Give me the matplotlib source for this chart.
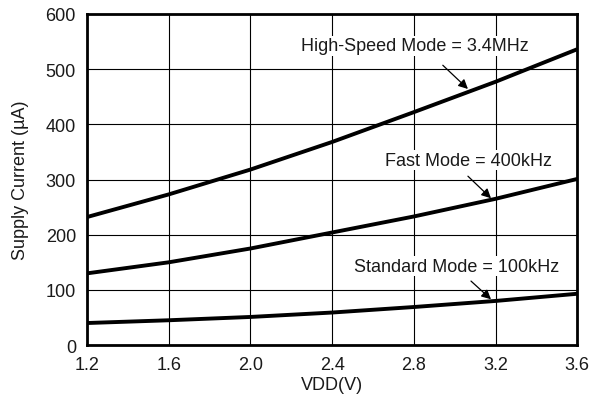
import numpy as np
import matplotlib.pyplot as plt

plt.rcParams["font.family"] = ["Liberation Sans", "DejaVu Sans"]
plt.rcParams["font.size"] = 13

vdd = [1.2, 1.6, 2.0, 2.4, 2.8, 3.2, 3.6]
high_speed = [232, 273, 318, 368, 422, 477, 536]
fast = [130, 150, 175, 204, 233, 265, 301]
standard = [40, 45, 51, 59, 69, 80, 93]

xticks = [1.2, 1.6, 2.0, 2.4, 2.8, 3.2, 3.6]
yticks = [0, 100, 200, 300, 400, 500, 600]

fig = plt.figure(figsize=(5.92, 4.14), dpi=100)
ax = fig.add_axes([0.147, 0.164, 0.828, 0.800])

for y in (high_speed, fast, standard):
    ax.plot(vdd, y, color="black", lw=2.8, solid_capstyle="butt", zorder=3)

ax.set_xlim(1.2, 3.6)
ax.set_ylim(0, 600)
ax.set_xticks(xticks)
ax.set_xticklabels(["%.1f" % v for v in xticks])
ax.set_yticks(yticks)
ax.grid(True, color="black", lw=0.8)
ax.tick_params(length=0, pad=8, labelcolor="#1a1a1a")
for s in ax.spines.values():
    s.set_linewidth(2.0)

ax.set_xlabel("VDD(V)", labelpad=2, color="#1a1a1a")
ax.set_ylabel("Supply Current (\u00b5A)", labelpad=12, color="#1a1a1a")

arrow = dict(arrowstyle="-|>", color="black", lw=0.9, mutation_scale=14,
             shrinkA=0, shrinkB=0)
labels = [
    ("High-Speed Mode = 3.4MHz", (2.805, 542), (2.942, 507), (3.065, 464)),
    ("Fast Mode = 400kHz", (3.067, 335), (3.065, 306), (3.178, 266)),
    ("Standard Mode = 100kHz", (3.011, 143), (3.08, 116), (3.178, 83)),
]
for text, pos, tail, tip in labels:
    ax.text(pos[0], pos[1], text, ha="center", va="center", zorder=5,
            color="#1a1a1a",
            bbox=dict(facecolor="white", edgecolor="none", pad=1))
    ax.annotate("", xy=tip, xytext=tail, arrowprops=arrow, zorder=4)

fig.savefig("out.png", dpi=100)
